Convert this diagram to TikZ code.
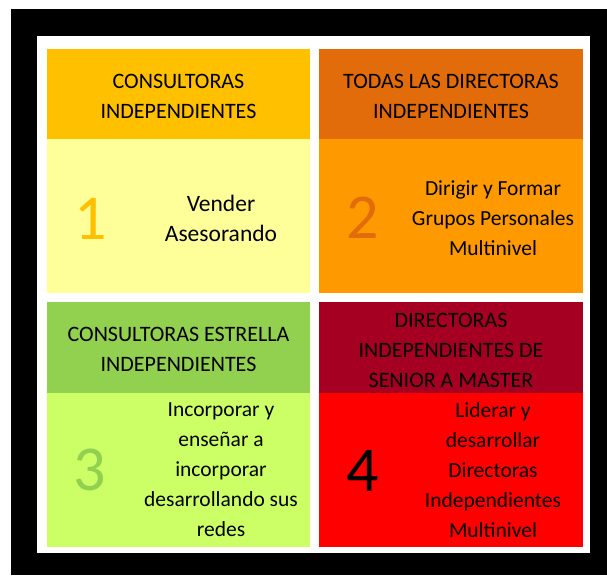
\documentclass[tikz,border=0pt]{standalone}
\usepackage{fontspec}
\setmainfont{Carlito}
\usetikzlibrary{positioning}
\usepackage{xcolor}

\definecolor{cabUno}{HTML}{FFC000}
\definecolor{cuerpoUno}{HTML}{FFFF99}
\definecolor{cabDos}{HTML}{E26B0A}
\definecolor{cuerpoDos}{HTML}{FF9900}
\definecolor{cabTres}{HTML}{92D050}
\definecolor{cuerpoTres}{HTML}{CCFF66}
\definecolor{cabCuatro}{HTML}{A50021}
\definecolor{cuerpoCuatro}{HTML}{FF0000}

\begin{document}
\begin{tikzpicture}[x=1pt,y=-1pt,
  cabecera/.style={font=\fontsize{22}{30}\selectfont, align=center, text=black, inner sep=0pt},
  texto/.style={font=\fontsize{23.5}{30}\selectfont, align=center, text=black, inner sep=0pt},
  textomenor/.style={texto, font=\fontsize{21.5}{30}\selectfont},
  numero/.style={font=\fontsize{64}{64}\selectfont, inner sep=0pt}]

\useasboundingbox (0,0) rectangle (607,575);
\fill[white] (0,0) rectangle (607,575);
\fill[black] (11,9) rectangle (607,575);
\fill[white] (37,36) rectangle (590,553);

% cuadrante 1
\fill[cabUno] (47,49) rectangle (310,139);
\fill[cuerpoUno] (47,139) rectangle (310,293);
\node[cabecera] (cab1) at (178.5,96) {CONSULTORAS\\INDEPENDIENTES};
\node[numero,text=cabUno] (num1) at (91,219) {1};
\node[texto] (txt1) at (221,218) {Vender\\Asesorando};

% cuadrante 2
\fill[cabDos] (319,49) rectangle (583,139);
\fill[cuerpoDos] (319,139) rectangle (583,293);
\node[cabecera] (cab2) at (451,96) {TODAS LAS DIRECTORAS\\INDEPENDIENTES};
\node[numero,text=cabDos] (num2) at (363,218) {2};
\node[textomenor] (txt2) at (493,218) {Dirigir y Formar\\Grupos Personales\\Multinivel};

% cuadrante 3
\fill[cabTres] (47,302) rectangle (310,393);
\fill[cuerpoTres] (47,393) rectangle (310,547);
\node[cabecera] (cab3) at (178.5,349) {CONSULTORAS ESTRELLA\\INDEPENDIENTES};
\node[numero,text=cabTres] (num3) at (90,470) {3};
\node[textomenor] (txt3) at (221,470) {Incorporar y\\enseñar a\\incorporar\\desarrollando sus\\redes};

% cuadrante 4
\fill[cabCuatro] (319,302) rectangle (583,393);
\fill[cuerpoCuatro] (319,393) rectangle (583,547);
\node[cabecera] (cab4) at (451,350) {DIRECTORAS\\INDEPENDIENTES DE\\SENIOR A MASTER};
\node[numero,text=black] (num4) at (363,471) {4};
\node[textomenor] (txt4) at (493,470) {Liderar y\\desarrollar\\Directoras\\Independientes\\Multinivel};

\end{tikzpicture}
\end{document}
